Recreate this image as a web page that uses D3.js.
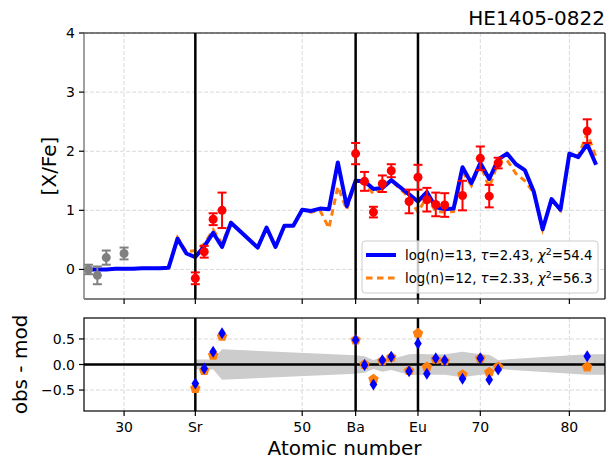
<!DOCTYPE html>
<html>
<head>
<meta charset="utf-8">
<script src="https://cdn.jsdelivr.net/npm/d3@7"></script>
<style>
body { margin: 0; background: #fff; }
text { font-family: "DejaVu Sans", sans-serif; fill: #000; }
</style>
</head>
<body>
<div id="chart"></div>
<script>
// model curves (atomic number 26..83)
var modelZ = d3.range(26, 84);
var model13 = [0.0, 0.0, 0.0, 0.01, 0.01, 0.01, 0.02, 0.02, 0.02, 0.03,
    0.52, 0.27, 0.21, 0.39, 0.62, 0.38, 0.79, 0.65, 0.51, 0.37,
    0.71, 0.38, 0.74, 0.74, 1.01, 0.99, 1.03, 1.02, 1.81, 1.07,
    1.50, 1.49, 1.36, 1.38, 1.51, 1.39, 1.27, 1.15, 1.31, 1.05,
    1.02, 1.03, 1.73, 1.46, 1.80, 1.53, 1.86, 1.96, 1.78, 1.68,
    1.32, 0.68, 1.19, 1.01, 1.96, 1.90, 2.12, 1.77];
var model12 = [0.0, 0.0, 0.0, 0.01, 0.01, 0.01, 0.02, 0.02, 0.02, 0.03,
    0.54, 0.30, 0.32, 0.43, 0.67, 0.44, 0.79, 0.65, 0.51, 0.37,
    0.71, 0.38, 0.74, 0.74, 1.01, 0.97, 1.00, 0.70, 1.40, 1.01,
    1.48, 1.46, 1.28, 1.38, 1.51, 1.36, 1.22, 0.97, 1.23, 0.98,
    0.97, 0.98, 1.65, 1.42, 1.77, 1.39, 1.81, 1.85, 1.62, 1.50,
    1.30, 0.68, 1.17, 1.00, 1.95, 1.92, 2.30, 1.90];

// observed abundances used in the fit
var obsZ = [38, 39, 40, 41, 56, 57, 58, 59, 60, 62, 63, 64, 65, 66, 68, 70, 71, 72, 82];
var obsVal = [-0.15, 0.30, 0.85, 1.00, 1.96, 1.49, 0.97, 1.45, 1.67, 1.15, 1.56, 1.18, 1.10, 1.09, 1.25, 1.88, 1.24, 1.80, 2.34];
var obsErr = [0.10, 0.10, 0.10, 0.30, 0.18, 0.16, 0.09, 0.14, 0.11, 0.20, 0.21, 0.20, 0.20, 0.20, 0.25, 0.20, 0.19, 0.09, 0.20];

// lighter elements, not fitted
var greyZ = [26, 27, 28, 30];
var greyVal = [0.0, -0.10, 0.20, 0.27];
var greyErr = [0.08, 0.15, 0.12, 0.10];

// residuals obs - mod
var res13 = [-0.37, -0.08, 0.25, 0.61, 0.48, -0.01, -0.39, 0.085, 0.15, -0.13, 0.41, -0.18, 0.12, 0.085, -0.28, 0.12, -0.30, -0.10, 0.16];
var res12 = [-0.47, -0.12, 0.18, 0.55, 0.48, 0.0, -0.29, 0.07, 0.14, -0.12, 0.61, -0.05, 0.10, 0.07, -0.20, 0.12, -0.15, -0.05, -0.05];

var xTicks = [30, 38, 50, 56, 63, 70, 80];
var xTickLabels = ["30", "Sr", "50", "Ba", "Eu", "70", "80"];
var vLines = [38, 56, 63];
var topTicks = [0, 1, 2, 3, 4];
var botTicks = [-0.5, 0, 0.5];
var botTickLabels = ["\u22120.5", "0.0", "0.5"];

var W = 607, H = 463;
var left = 84, right = 605;
var top1 = 33, bot1 = 299, top2 = 318, bot2 = 411;

var svg = d3.select("#chart").append("svg")
    .attr("width", W).attr("height", H);

var x = d3.scaleLinear().domain([25.5, 84]).range([left, right]);
var y1 = d3.scaleLinear().domain([-0.5, 4]).range([bot1, top1]);
var y2 = d3.scaleLinear().domain([-0.91, 0.91]).range([bot2, top2]);

var blue = "#0000ff", orange = "#ff7f0e", grid = "#d9d9d9";

function drawGrid(g, y, yt, t, b) {
    g.selectAll(".gx").data(xTicks).enter().append("line")
        .attr("x1", d => x(d)).attr("x2", d => x(d))
        .attr("y1", t).attr("y2", b)
        .attr("stroke", grid).attr("stroke-dasharray", "4,2");
    g.selectAll(".gy").data(yt).enter().append("line")
        .attr("x1", left).attr("x2", right)
        .attr("y1", d => y(d)).attr("y2", d => y(d))
        .attr("stroke", grid).attr("stroke-dasharray", "4,2");
}

// ---------- top panel ----------
var g1 = svg.append("g");
var clip1 = svg.append("clipPath").attr("id", "c1").append("rect")
    .attr("x", left).attr("y", top1).attr("width", right - left).attr("height", bot1 - top1);
drawGrid(g1, y1, topTicks, top1, bot1);

var line = d3.line().x(d => x(d[0])).y(d => y1(d[1]));

g1.append("path")
    .datum(modelZ.map((z, i) => [z, model12[i]]))
    .attr("d", line).attr("fill", "none")
    .attr("stroke", orange).attr("stroke-width", 3)
    .attr("stroke-dasharray", "6.5,4.5");
g1.append("path")
    .datum(modelZ.map((z, i) => [z, model13[i]]))
    .attr("d", line).attr("fill", "none")
    .attr("stroke", blue).attr("stroke-width", 4)
    .attr("stroke-linejoin", "round");

g1.selectAll(".vl").data(vLines).enter().append("line")
    .attr("x1", d => x(d)).attr("x2", d => x(d))
    .attr("y1", top1).attr("y2", bot1)
    .attr("stroke", "#000").attr("stroke-width", 2.5);

function errPoints(g, zs, vals, errs, col) {
    var pts = g.append("g").attr("clip-path", "url(#c1)");
    zs.forEach(function(z, i) {
        var cx = x(z), lo = y1(vals[i] - errs[i]), hi = y1(vals[i] + errs[i]);
        pts.append("line").attr("x1", cx).attr("x2", cx).attr("y1", lo).attr("y2", hi)
            .attr("stroke", col).attr("stroke-width", 2);
        [lo, hi].forEach(function(yy) {
            pts.append("line").attr("x1", cx - 4.5).attr("x2", cx + 4.5)
                .attr("y1", yy).attr("y2", yy)
                .attr("stroke", col).attr("stroke-width", 2);
        });
        pts.append("circle").attr("cx", cx).attr("cy", y1(vals[i])).attr("r", 4.5)
            .attr("fill", col);
    });
}
errPoints(g1, greyZ, greyVal, greyErr, "#808080");
errPoints(g1, obsZ, obsVal, obsErr, "#ff0000");

// frame
g1.append("line").attr("x1", left).attr("x2", right).attr("y1", top1).attr("y2", top1).attr("stroke", "#000").attr("stroke-width", 1.2);
g1.append("line").attr("x1", right).attr("x2", right).attr("y1", top1).attr("y2", bot1).attr("stroke", "#000").attr("stroke-width", 1.2);
g1.append("line").attr("x1", left).attr("x2", right).attr("y1", bot1).attr("y2", bot1).attr("stroke", "#000").attr("stroke-width", 1.2);
g1.append("line").attr("x1", left).attr("x2", left).attr("y1", top1).attr("y2", bot1).attr("stroke", "#808080").attr("stroke-width", 1.5);

// ticks
g1.selectAll(".xt").data(xTicks).enter().append("line")
    .attr("x1", d => x(d)).attr("x2", d => x(d)).attr("y1", bot1).attr("y2", bot1 + 5)
    .attr("stroke", "#000").attr("stroke-width", 1.2);
g1.selectAll(".yt").data(topTicks).enter().append("line")
    .attr("x1", left - 5).attr("x2", left).attr("y1", d => y1(d)).attr("y2", d => y1(d))
    .attr("stroke", "#000").attr("stroke-width", 1.2);
g1.selectAll(".ytl").data(topTicks).enter().append("text")
    .attr("x", left - 9).attr("y", d => y1(d) + 5)
    .attr("text-anchor", "end").style("font-size", "14px")
    .text(d => d);

// legend
var lg = g1.append("g");
lg.append("rect").attr("x", 362).attr("y", 241).attr("width", 236).attr("height", 52)
    .attr("rx", 3).attr("fill", "#fff").attr("fill-opacity", 0.8)
    .attr("stroke", "#cccccc");
var legRows = [
    {col: blue, dash: null, w: 4, n: "13", tau: "2.43", chi: "54.4"},
    {col: orange, dash: "6.5,4.5", w: 3, n: "12", tau: "2.33", chi: "56.3"}
];
legRows.forEach(function(r, i) {
    var yy = 255 + i * 23;
    lg.append("line").attr("x1", 366).attr("x2", 396).attr("y1", yy).attr("y2", yy)
        .attr("stroke", r.col).attr("stroke-width", r.w)
        .attr("stroke-dasharray", r.dash);
    var t = lg.append("text").attr("x", 405).attr("y", yy + 5).style("font-size", "13.3px");
    t.append("tspan").text("log(n)=" + r.n + ", ");
    t.append("tspan").style("font-style", "italic").text("\u03c4");
    t.append("tspan").text("=" + r.tau + ", ");
    t.append("tspan").style("font-style", "italic").text("\u03c7");
    t.append("tspan").attr("dy", -5).style("font-size", "9.5px").text("2");
    t.append("tspan").attr("dy", 5).text("=" + r.chi);
});

svg.append("text").attr("x", right).attr("y", 25)
    .attr("text-anchor", "end").style("font-size", "20px").text("HE1405-0822");
svg.append("text")
    .attr("transform", "translate(56," + ((top1 + bot1) / 2) + ") rotate(-90)")
    .attr("text-anchor", "middle").style("font-size", "20px").text("[X/Fe]");

// ---------- bottom panel ----------
var g2 = svg.append("g");
drawGrid(g2, y2, botTicks, top2, bot2);

// uncertainty band from observed errors
var bandData = obsZ.map((z, i) => [z, obsErr[i]]);
bandData.push([x.domain()[1], obsErr[obsErr.length - 1]]);
g2.append("path")
    .datum(bandData)
    .attr("d", d3.area().x(d => x(d[0])).y0(d => y2(-d[1])).y1(d => y2(d[1])))
    .attr("fill", "#cccccc");

g2.append("line").attr("x1", left).attr("x2", right).attr("y1", y2(0)).attr("y2", y2(0))
    .attr("stroke", "#000").attr("stroke-width", 2.5);
g2.selectAll(".vl").data(vLines).enter().append("line")
    .attr("x1", d => x(d)).attr("x2", d => x(d))
    .attr("y1", top2).attr("y2", bot2)
    .attr("stroke", "#000").attr("stroke-width", 2.5);

var pent = d3.symbol().type(d3.symbolStar).size(0);
function pentagon(r) {
    var p = [];
    for (var k = 0; k < 5; k++) {
        var a = -Math.PI / 2 + k * 2 * Math.PI / 5;
        p.push([r * Math.cos(a), r * Math.sin(a)]);
    }
    return "M" + p.join("L") + "Z";
}
g2.selectAll(".pm").data(obsZ).enter().append("path")
    .attr("d", pentagon(5.5))
    .attr("transform", (d, i) => "translate(" + x(d) + "," + y2(res12[i]) + ")")
    .attr("fill", orange);
g2.selectAll(".dm").data(obsZ).enter().append("path")
    .attr("d", "M0,-6L3.8,0L0,6L-3.8,0Z")
    .attr("transform", (d, i) => "translate(" + x(d) + "," + y2(res13[i]) + ")")
    .attr("fill", blue);

g2.append("rect").attr("x", left).attr("y", top2).attr("width", right - left).attr("height", bot2 - top2)
    .attr("fill", "none").attr("stroke", "#000").attr("stroke-width", 1.2);

g2.selectAll(".xt").data(xTicks).enter().append("line")
    .attr("x1", d => x(d)).attr("x2", d => x(d)).attr("y1", bot2).attr("y2", bot2 + 5)
    .attr("stroke", "#000").attr("stroke-width", 1.2);
g2.selectAll(".xtl").data(xTicks).enter().append("text")
    .attr("x", d => x(d)).attr("y", bot2 + 21)
    .attr("text-anchor", "middle").style("font-size", "14px")
    .text((d, i) => xTickLabels[i]);
g2.selectAll(".yt").data(botTicks).enter().append("line")
    .attr("x1", left - 5).attr("x2", left).attr("y1", d => y2(d)).attr("y2", d => y2(d))
    .attr("stroke", "#000").attr("stroke-width", 1.2);
g2.selectAll(".ytl").data(botTicks).enter().append("text")
    .attr("x", left - 9).attr("y", d => y2(d) + 5)
    .attr("text-anchor", "end").style("font-size", "14px")
    .text((d, i) => botTickLabels[i]);

svg.append("text")
    .attr("transform", "translate(27," + ((top2 + bot2) / 2) + ") rotate(-90)")
    .attr("text-anchor", "middle").style("font-size", "20px").text("obs - mod");
svg.append("text").attr("x", (left + right) / 2).attr("y", 455)
    .attr("text-anchor", "middle").style("font-size", "20px").text("Atomic number");
</script>
</body>
</html>
